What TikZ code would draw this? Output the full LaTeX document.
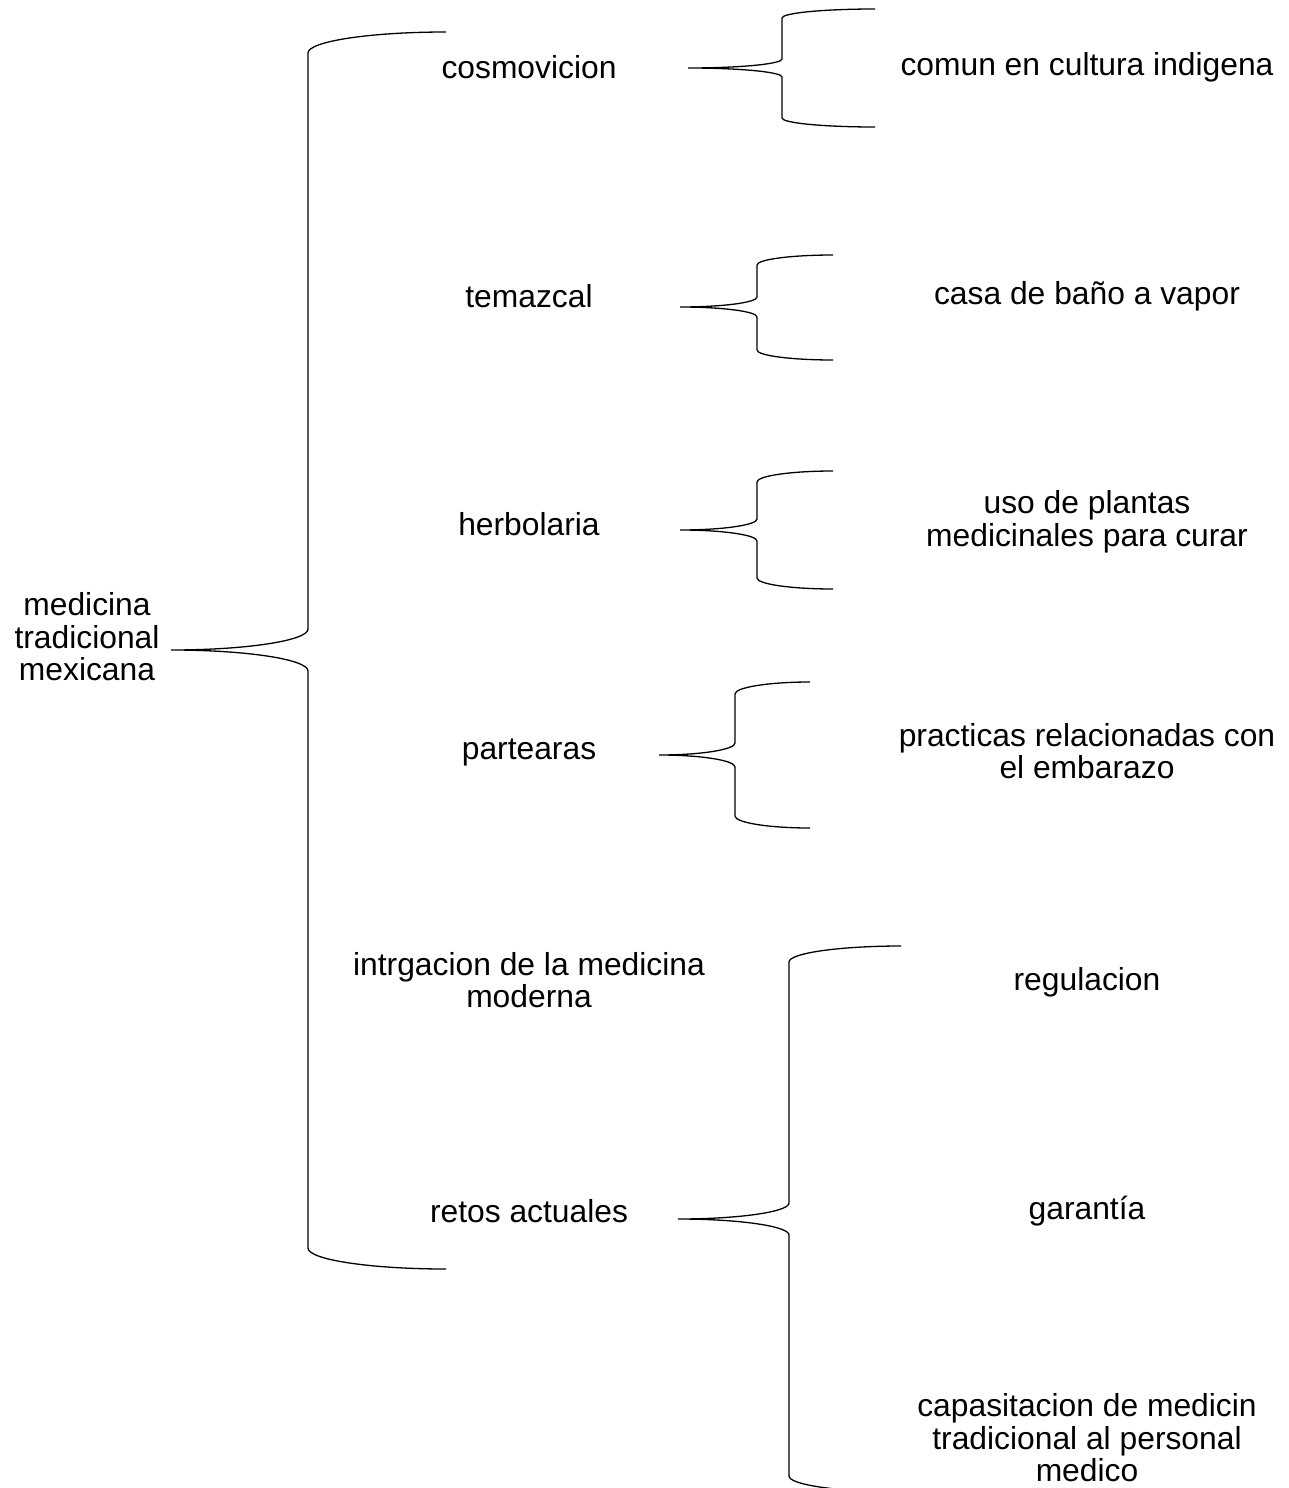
\documentclass[tikz,border=0pt]{standalone}
\usepackage{fontspec}
\setmainfont{Liberation Sans}
\begin{document}
\begin{tikzpicture}[x=1pt,y=-1pt,
  bracestyle/.style={line width=1.3pt,black},
  txt/.style={align=center,inner sep=0pt,font=\fontsize{31.8}{32.5}\selectfont}]
\useasboundingbox (0,0) rectangle (1288,1488);
\clip (0,0) rectangle (1288,1488);
\newcommand\curly[7]{%
 \pgfmathsetmacro\cw{#4-#3}%
 \pgfmathsetmacro\tw{#3-#1}%
 \pgfmathsetmacro\kd{0.552*#7}%
 \draw[bracestyle] (#4,#5) .. controls ({#4-0.552*\cw},#5) and (#3,{#5+#7-\kd}) .. (#3,{#5+#7})
  -- (#3,{#2-#7}) .. controls (#3,{#2-#7+\kd}) and ({#1+0.552*\tw},#2) .. (#1,#2)
  .. controls ({#1+0.552*\tw},#2) and (#3,{#2+#7-\kd}) .. (#3,{#2+#7})
  -- (#3,{#6-#7}) .. controls (#3,{#6-#7+\kd}) and ({#4-0.552*\cw},#6) .. (#4,#6);
}
% texts
\node[txt] (root) at (87,637) {medicina\\tradicional\\mexicana};
\node[txt] (cosmo) at (529,67) {cosmovicion};
\node[txt] (tema) at (529,296) {temazcal};
\node[txt] (herb) at (529,524) {herbolaria};
\node[txt] (parte) at (529,753) {partearas};
\node[txt] (integ) at (529,980) {intrgacion de la medicina\\moderna};
\node[txt] (retos) at (529,1211) {retos actuales};
\node[txt] (comun) at (1087,67) {comun en cultura indigena};
\node[txt] (casa) at (1087,296) {casa de baño a vapor};
\node[txt] (uso) at (1087,522) {uso de plantas\\medicinales para curar};
\node[txt] (prac) at (1087,751) {practicas relacionadas con\\el embarazo};
\node[txt] (regu) at (1087,982) {regulacion};
\node[txt] (gara) at (1087,1211) {garantía};
\node[txt] (capa) at (1087,1438) {capasitacion de medicin\\tradicional al personal\\medico};
% braces
\curly{171}{650}{308}{446}{32}{1269}{21}
\curly{688}{68}{782}{875}{9}{127}{9}
\curly{680}{307}{757}{833}{255}{360}{10}
\curly{680}{530}{757}{833}{471}{589}{11}
\curly{659}{755}{735}{810}{682}{828}{12}
\curly{678}{1219}{789}{901}{946}{1492}{16}
\end{tikzpicture}
\end{document}
